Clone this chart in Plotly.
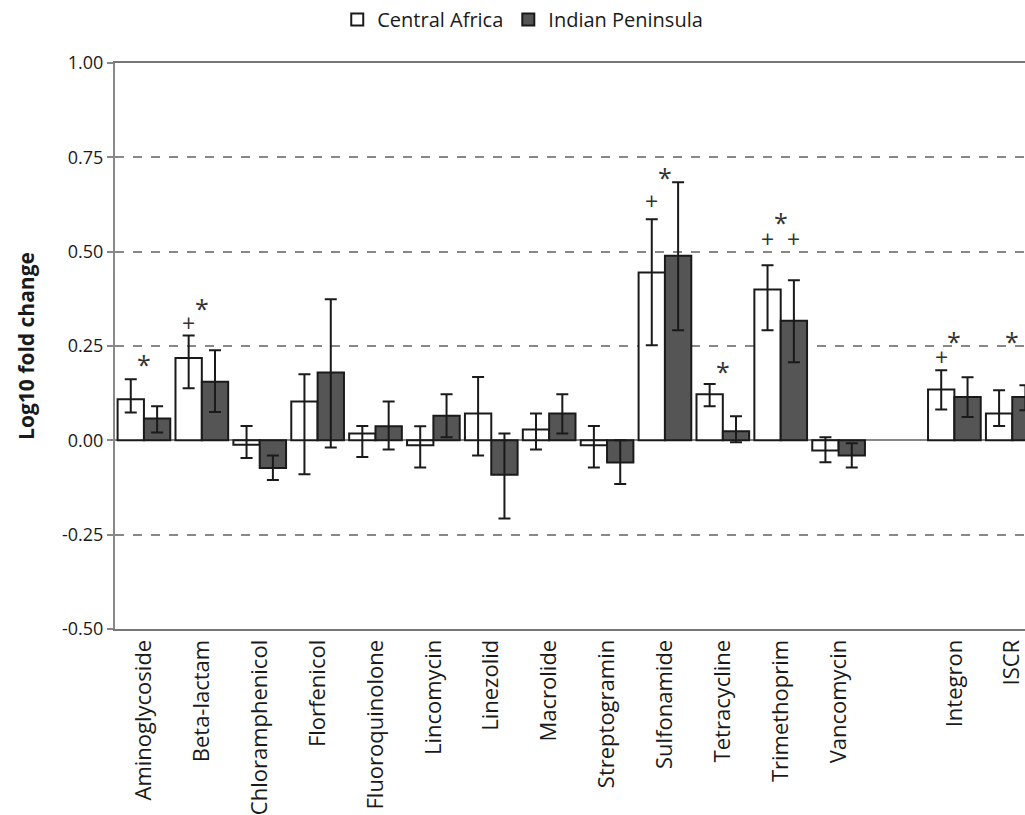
import plotly.graph_objects as go

# Resistance gene classes (a blank slot separates the mobile elements)
categories = ["Aminoglycoside", "Beta-lactam", "Chloramphenicol", "Florfenicol",
              "Fluoroquinolone", "Lincomycin", "Linezolid", "Macrolide",
              "Streptogramin", "Sulfonamide", "Tetracycline", "Trimethoprim",
              "Vancomycin", "Integron", "ISCR"]

# Log10 fold change with upper / lower error per region
central_africa = [0.109, 0.218, -0.012, 0.103, 0.018, -0.013, 0.071, 0.029,
                  -0.013, 0.445, 0.122, 0.400, -0.027, 0.135, 0.071]
central_africa_err_up = [0.053, 0.060, 0.050, 0.072, 0.020, 0.050, 0.097, 0.042,
                         0.051, 0.141, 0.027, 0.064, 0.035, 0.051, 0.062]
central_africa_err_down = [0.035, 0.080, 0.035, 0.193, 0.062, 0.059, 0.111, 0.053,
                           0.059, 0.193, 0.032, 0.108, 0.031, 0.053, 0.033]

indian_peninsula = [0.058, 0.155, -0.073, 0.180, 0.037, 0.065, -0.091, 0.071,
                    -0.059, 0.489, 0.024, 0.317, -0.040, 0.115, 0.115]
indian_peninsula_err_up = [0.032, 0.084, 0.033, 0.194, 0.066, 0.057, 0.109, 0.051,
                           0.059, 0.195, 0.040, 0.107, 0.032, 0.052, 0.031]
indian_peninsula_err_down = [0.037, 0.080, 0.032, 0.199, 0.061, 0.057, 0.116, 0.053,
                             0.057, 0.197, 0.029, 0.110, 0.032, 0.053, 0.035]

# Significance marks: (category, symbol, bar, height)
marks = [
    ("Aminoglycoside", "*", "both", 0.218),
    ("Beta-lactam", "+", "ca", 0.311),
    ("Beta-lactam", "*", "both", 0.367),
    ("Sulfonamide", "+", "ca", 0.635),
    ("Sulfonamide", "*", "both", 0.714),
    ("Tetracycline", "*", "both", 0.200),
    ("Trimethoprim", "+", "ca", 0.534),
    ("Trimethoprim", "+", "ip", 0.534),
    ("Trimethoprim", "*", "both", 0.594),
    ("Integron", "+", "ca", 0.221),
    ("Integron", "*", "both", 0.278),
    ("ISCR", "*", "both", 0.278),
    ("ISCR", "+", "ip", 0.180),
]

positions = list(range(13)) + [14, 15]
pos_of = dict(zip(categories, positions))

FONT = "Open Sans"
INK = "#1a1a1a"
GAP = 0.09
half = (1 - GAP) / 4  # centre offset of each bar within a group

fig = go.Figure()
fig.add_trace(go.Bar(
    name="Central Africa", x=positions, y=central_africa,
    marker=dict(color="white", line=dict(color=INK, width=2)),
    error_y=dict(type="data", symmetric=False, array=central_africa_err_up,
                 arrayminus=central_africa_err_down, color=INK,
                 thickness=2, width=6),
))
fig.add_trace(go.Bar(
    name="Indian Peninsula", x=positions, y=indian_peninsula,
    marker=dict(color="#555555", line=dict(color=INK, width=2)),
    error_y=dict(type="data", symmetric=False, array=indian_peninsula_err_up,
                 arrayminus=indian_peninsula_err_down, color=INK,
                 thickness=2, width=6),
))

offsets = {"ca": -half, "ip": half, "both": 0.0}
for cat, sym, bar, level in marks:
    fig.add_annotation(
        x=pos_of[cat] + offsets[bar], y=level, text=sym, showarrow=False,
        xanchor="center", yanchor="middle",
        yshift=-6 if sym == "*" else 0,
        font=dict(family=FONT, size=25 if sym == "*" else 23, color="#333"),
    )

fig.update_layout(
    width=1025, height=815,
    margin=dict(l=115, r=0, t=63, b=186),
    paper_bgcolor="white", plot_bgcolor="white",
    barmode="group", bargap=GAP, bargroupgap=0,
    font=dict(family=FONT, color=INK),
    showlegend=True,
    legend=dict(orientation="h", x=0.51, xanchor="center", xref="container",
                y=1.0, yanchor="top", yref="container",
                font=dict(family=FONT, size=20, color=INK),
                itemwidth=30, traceorder="normal"),
    xaxis=dict(
        tickmode="array", tickvals=positions, ticktext=categories,
        tickangle=-90, tickfont=dict(size=22, color=INK),
        ticklabeloverflow="allow",
        range=[-0.5, 15.22], showgrid=False, zeroline=False,
        showline=True, linecolor="#777", linewidth=2, mirror=True,
        ticks="",
    ),
    yaxis=dict(
        range=[-0.5, 1.0], tickvals=[-0.5, -0.25, 0, 0.25, 0.5, 0.75, 1.0],
        ticktext=["-0.50", "-0.25", "0.00", "0.25", "0.50", "0.75", "1.00"],
        tickfont=dict(size=18, color=INK),
        showgrid=True, gridcolor="#888", griddash="dash", gridwidth=1.5,
        zeroline=True, zerolinecolor="#888", zerolinewidth=2,
        showline=True, linecolor="#888", linewidth=2,
        ticks="outside", ticklen=6, tickcolor="#888", tickwidth=1.5,
        title=dict(text="<b>Log10 fold change</b>", standoff=22,
                   font=dict(family=FONT, size=21, color=INK)),
    ),
)

fig.write_html("out.html")
